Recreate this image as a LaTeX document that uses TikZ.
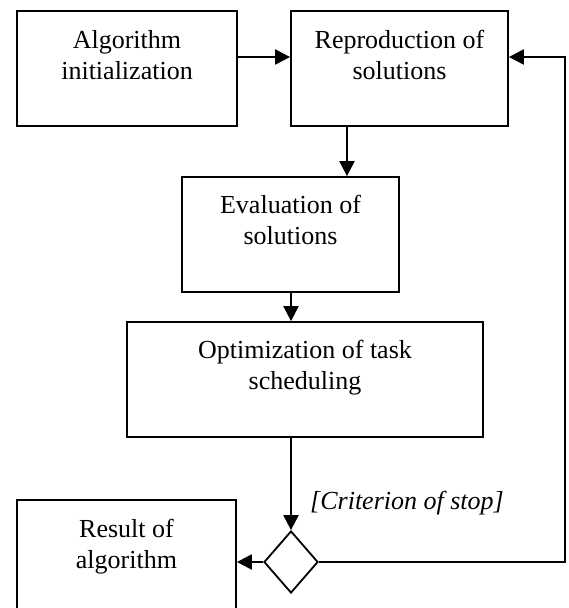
\documentclass[tikz,border=0pt]{standalone}
\usepackage{fontspec}
\setmainfont{Liberation Serif}
\usetikzlibrary{shapes.geometric,arrows.meta,calc}
\begin{document}
\begin{tikzpicture}[x=1pt,y=-1pt,
  box/.style={draw,line width=1.8pt,inner sep=0pt},
  boxtext/.style={font=\fontsize{26}{31}\selectfont,align=center,anchor=north,inner sep=0pt},
  flow/.style={line width=2.2pt,-{Triangle[length=15pt,width=15pt]}}]
\clip (0,0) rectangle (569,608);

% process boxes
\node[box,minimum width=220pt,minimum height=115pt] (alg)   at (127,68.5)   {};
\node[box,minimum width=217pt,minimum height=115pt] (repro) at (399.5,68.5) {};
\node[box,minimum width=217pt,minimum height=115pt] (eval)  at (290.5,234.5) {};
\node[box,minimum width=356pt,minimum height=115pt] (opt)   at (305,379.5)  {};
\node[box,minimum width=219pt,minimum height=115pt] (res)   at (126.5,557.5) {};
\node[draw,line width=1.8pt,shape=diamond,inner sep=0pt,
      minimum width=54pt,minimum height=62pt] (dia) at (291,562) {};

% box captions
\node[boxtext] (alg-t)   at ($(alg.north)+(0,20)$)   {Algorithm\\initialization};
\node[boxtext] (repro-t) at ($(repro.north)+(0,20)$) {Reproduction of\\solutions};
\node[boxtext] (eval-t)  at ($(eval.north)+(0,19)$)  {Evaluation of\\solutions};
\node[boxtext] (opt-t)   at ($(opt.north)+(0,19)$)   {Optimization of task\\scheduling};
\node[boxtext] (res-t)   at ($(res.north)+(0,20)$)   {Result of\\algorithm};

% guard label
\node[font=\itshape\fontsize{26}{31}\selectfont,anchor=base west,inner sep=0pt]
  (crit) at (310,509) {[Criterion of stop]};

% connectors
\coordinate (fb) at (565,57);
\coordinate (rx) at (347,0);
\draw[flow] (alg.east |- fb) -- (repro.west |- fb);
\draw[flow] (repro.south -| rx) -- (eval.north -| rx);
\draw[flow] (eval.south -| dia.north) -- (opt.north -| dia.north);
\draw[flow] (opt.south -| dia.north) -- (dia.north);
\draw[flow] (dia.west) -- (dia.west -| res.east);
\draw[flow] (dia.east) -| (fb) -- (fb -| repro.east);
\end{tikzpicture}
\end{document}
